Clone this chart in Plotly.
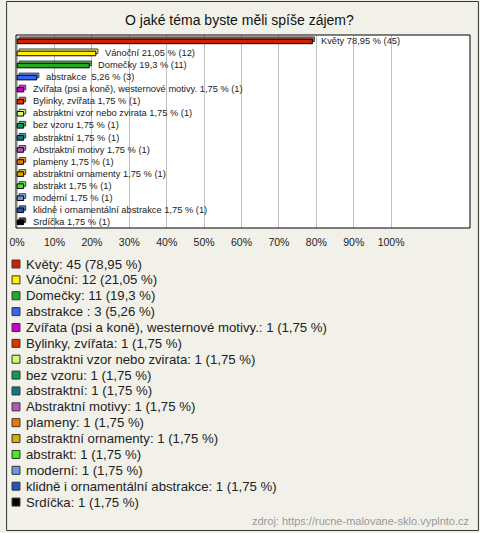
import plotly.graph_objects as go

categories = ["Květy", "Vánoční", "Domečky", "abstrakce ", "Zvířata (psi a koně), westernové motivy.",
              "Bylinky, zvířata", "abstraktni vzor nebo zvirata", "bez vzoru", "abstraktní",
              "Abstraktní motivy", "plameny", "abstraktní ornamenty", "abstrakt", "moderní",
              "klidně i ornamentální abstrakce", "Srdíčka"]
counts = [45, 12, 11, 3, 1, 1, 1, 1, 1, 1, 1, 1, 1, 1, 1, 1]
percents = [78.95, 21.05, 19.3, 5.26, 1.75, 1.75, 1.75, 1.75, 1.75, 1.75, 1.75, 1.75, 1.75, 1.75, 1.75, 1.75]
pct_labels = ["78,95", "21,05", "19,3", "5,26", "1,75", "1,75", "1,75", "1,75", "1,75", "1,75",
              "1,75", "1,75", "1,75", "1,75", "1,75", "1,75"]
colors = ["#cc2200", "#ffee00", "#22aa22", "#3366ee", "#cc00cc", "#dd3300", "#ccff77", "#119955",
          "#117788", "#bb55bb", "#ee7700", "#ddaa00", "#44ee22", "#6699dd", "#2255bb", "#000000"]
tick_vals = [0, 10, 20, 30, 40, 50, 60, 70, 80, 90, 100]
tick_text = ["0%", "10%", "20%", "30%", "40%", "50%", "60%", "70%", "80%", "90%", "100%"]
title = "O jaké téma byste měli spíše zájem?"
source = "zdroj: https://rucne-malovane-sklo.vyplnto.cz"

W, H = 480, 533
ML, MR, MT, MB = 11, 10, 35, 305
PW, PH = W - ML - MR, H - MT - MB
FONT = "Liberation Sans, Arial"


def px(x):
    return (x - ML) / PW


def py(y):
    return 1 - (y - MT) / PH


ys = list(range(len(categories)))
fig = go.Figure()
# 3D back face (lighter, shifted)
fig.add_trace(go.Bar(
    x=percents, y=ys, orientation="h", base=0.55, width=0.38, offset=-0.34,
    marker=dict(color=colors, line=dict(color="#000000", width=1), opacity=0.75),
    hoverinfo="skip", showlegend=False))
fig.add_trace(go.Bar(
    x=percents, y=ys, orientation="h", width=0.38, offset=-0.16,
    marker=dict(color=colors, line=dict(color="#000000", width=1)),
    hoverinfo="skip", showlegend=False))

for i, c in enumerate(categories):
    fig.add_annotation(x=percents[i], y=ys[i], xref="x", yref="y",
                       text=f"{c} {pct_labels[i]} % ({counts[i]})",
                       xanchor="left", yanchor="middle", xshift=7, showarrow=False,
                       font=dict(family=FONT, size=9.3, color="#222222"))

# legend
for i, c in enumerate(categories):
    yc = 264 + i * 15.87
    fig.add_shape(type="rect", xref="paper", yref="paper",
                  x0=px(7), x1=px(15), y0=py(yc - 4), y1=py(yc + 4),
                  fillcolor=colors[i], line=dict(color="#333333", width=1))
    lab = f"{c.rstrip()}: {counts[i]} ({pct_labels[i]} %)" if c != "abstrakce " else f"abstrakce : {counts[i]} ({pct_labels[i]} %)"
    fig.add_annotation(x=px(19), y=py(yc), xref="paper", yref="paper", text=lab,
                       xanchor="left", yanchor="middle", showarrow=False,
                       font=dict(family=FONT, size=13.2, color="#222222"))

fig.add_annotation(x=px(471), y=py(521), xref="paper", yref="paper", text=source,
                   xanchor="right", yanchor="middle", showarrow=False,
                   font=dict(family=FONT, size=11, color="#999999"))
fig.add_annotation(x=px(237), y=py(20), xref="paper", yref="paper", text=title,
                   xanchor="center", yanchor="middle", showarrow=False,
                   font=dict(family=FONT, size=14, color="#111111"))

# outer border
fig.add_shape(type="rect", xref="paper", yref="paper",
              x0=px(1.5), x1=px(478.5), y0=py(1.5), y1=py(530.5),
              line=dict(color="#333333", width=1), fillcolor="rgba(0,0,0,0)")
# plot box
fig.add_shape(type="rect", xref="paper", yref="paper", x0=0, x1=1, y0=0, y1=1,
              line=dict(color="#000000", width=1), fillcolor="rgba(0,0,0,0)")

fig.update_layout(
    width=W, height=H, margin=dict(l=ML, r=MR, t=MT, b=MB),
    paper_bgcolor="#f2f1e9", plot_bgcolor="#ffffff",
    barmode="overlay", showlegend=False,
    xaxis=dict(range=[-0.3, 121.1], tickvals=tick_vals, ticktext=tick_text,
               showgrid=True, gridcolor="#c0c0c0", gridwidth=1, zeroline=False,
               showline=False, ticks="outside", ticklen=4, tickcolor="rgba(0,0,0,0)",
               tickfont=dict(family=FONT, size=10.5, color="#222222")),
    yaxis=dict(range=[15.5, -0.5], showticklabels=False, showgrid=False, zeroline=False,
               showline=False, ticks=""),
)
fig.write_html("out.html", config={"displayModeBar": False},
               post_script="document.body.style.margin='0';document.body.style.overflow='hidden';")
